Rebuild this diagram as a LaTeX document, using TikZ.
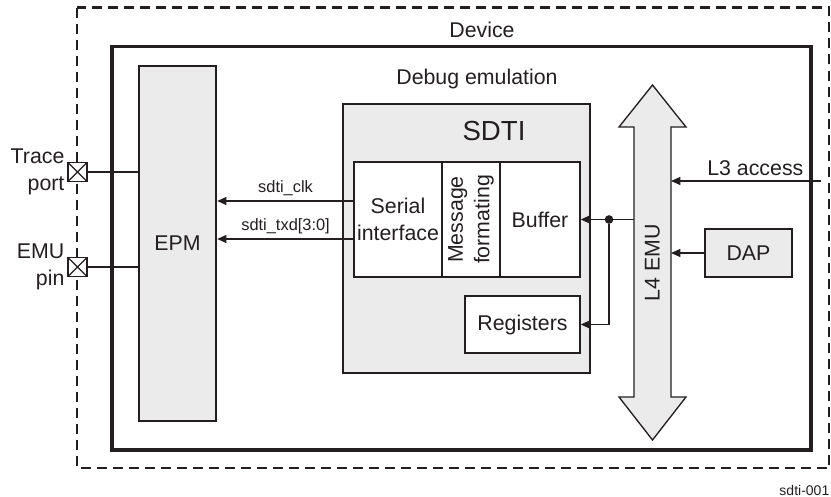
\documentclass[tikz,border=0pt]{standalone}
\usepackage{fontspec}
\setmainfont{Liberation Sans}
\usetikzlibrary{arrows.meta}

\definecolor{ink}{HTML}{231F20}
\definecolor{shade}{HTML}{EBEBEB}

\begin{document}
\begin{tikzpicture}[x=0.75pt, y=-0.75pt, color=ink,
    font=\fontsize{16}{20}\selectfont,
    box/.style={draw, line width=\wt, fill=shade, inner sep=0pt},
    sub/.style={draw, line width=\wn, fill=white, inner sep=0pt, align=center},
    pinx/.style={draw, line width=\wn, fill=white, inner sep=0pt, minimum size=19*\pxl,
        path picture={\draw[line width=\wn] (path picture bounding box.north west) -- (path picture bounding box.south east)
            (path picture bounding box.south west) -- (path picture bounding box.north east);}},
    tip/.style={-{Triangle[length=7pt,width=6pt]}, line width=\wn},
    dot/.style={circle, fill=ink, inner sep=0pt, minimum size=6.5pt},
    small/.style={font=\fontsize{12.3}{14}\selectfont}]
    \def\pxl{0.75pt}
    \def\wn{1pt}
    \def\wt{1.7pt}
    \def\wf{2.4pt}
    \def\wdash{2.2pt}
    \useasboundingbox (0,0) rectangle (831,496);

    % device and emulation frames
    \draw[line width=\wdash, dash pattern=on 7.5pt off 4.5pt] (77,7.5) rectangle (829,468);
    \draw[line width=\wf] (112,46.5) rectangle (811,450);
    \node (dev) at (482,30) {Device};
    \node (dbg) at (477,79) {Debug emulation};

    % EPM and its pins
    \node[box, minimum width=77*\pxl, minimum height=355*\pxl] (epm) at (177.5,243.5) {EPM};
    \node[pinx] (tp) at (77.5,172) {};
    \node[pinx] (ep) at (77.5,267) {};
    \node[anchor=east, align=right, inner sep=2pt] (tpl) at (tp.west) {Trace\\port};
    \node[anchor=east, align=right, inner sep=2pt] (epl) at (ep.west) {EMU\\pin};
    \draw[line width=\wn] (tp.east) -- (tp.east -| epm.west);
    \draw[line width=\wn] (ep.east) -- (ep.east -| epm.west);

    % SDTI
    \node[box, minimum width=247*\pxl, minimum height=269*\pxl] (sdti) at (466.5,238.5) {};
    \node[font=\fontsize{20.7}{24}\selectfont] (sdtit) at (494,131) {SDTI};
    \node[sub, minimum width=88*\pxl, minimum height=115*\pxl] (ser) at (398,219.5) {Serial\\interface};
    \node[sub, minimum width=58*\pxl, minimum height=115*\pxl] (msg) at (471,219.5) {};
    \node[rotate=90, align=center] (msgt) at (msg) {Message\\formating};
    \node[sub, minimum width=80*\pxl, minimum height=115*\pxl] (buf) at (540,219.5) {Buffer};
    \node[sub, minimum width=115*\pxl, minimum height=57*\pxl] (reg) at (522.5,324.5) {Registers};

    \coordinate (clk) at (354,201);
    \coordinate (txd) at (354,239);
    \draw[tip] (clk) -- (clk -| epm.east) node[midway, above, small] {sdti\_clk};
    \draw[tip] (txd) -- (txd -| epm.east) node[midway, above, small] {sdti\_txd[3:0]};

    % L4 EMU bus
    \draw[line width=\wn, fill=shade] (634,127) -- (619,127) -- (652.5,85) -- (686,127) -- (671,127)
        -- (671,397) -- (686,397) -- (652.5,440) -- (619,397) -- (634,397) -- cycle;
    \coordinate (busL) at (634,0);
    \coordinate (busR) at (671,0);
    \node[rotate=90] (bus) at (652.5,263) {L4 EMU};

    \node[dot] (jn) at (609,219.5) {};
    \draw[tip] (busL |- buf.east) -- (buf.east);
    \draw[tip] (jn) |- (reg.east);

    \coordinate (l3) at (821,181);
    \draw[tip] (l3) -- (l3 -| busR) node[midway, above, xshift=7pt] {L3 access};

    \node[box, minimum width=87*\pxl, minimum height=48*\pxl] (dap) at (748.5,253) {DAP};
    \draw[tip] (dap.west) -- (dap.west -| busR);

    \node[anchor=east, font=\fontsize{10.5}{12}\selectfont] (fig) at (834,490) {sdti-001};
\end{tikzpicture}
\end{document}
